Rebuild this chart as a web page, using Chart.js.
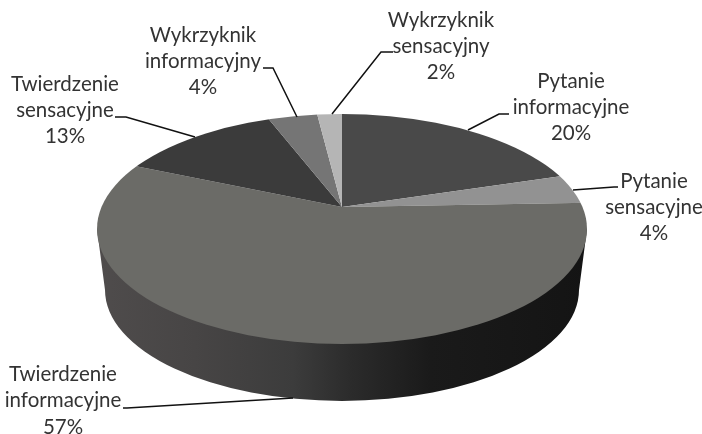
<!DOCTYPE html>
<html><head><meta charset="utf-8">
<style>html,body{margin:0;padding:0;background:#fff}canvas{display:block;filter:blur(.35px)}</style>
<script src="https://cdn.jsdelivr.net/npm/chart.js@4"></script>
</head><body><canvas id="c" width="702" height="434"></canvas>
<script>
const categories = ["Pytanie informacyjne","Pytanie sensacyjne","Twierdzenie informacyjne","Twierdzenie sensacyjne","Wykrzyknik informacyjny","Wykrzyknik sensacyjny"];
const values = [20,4,57,13,4,2];
const sliceColors = ["#494949","#929292","#6b6b67","#3b3b3b","#757575","#b5b5b5"];
const labelLines = [["Pytanie","informacyjne"],["Pytanie","sensacyjne"],["Twierdzenie","informacyjne"],["Twierdzenie","sensacyjne"],["Wykrzyknik","informacyjny"],["Wykrzyknik","sensacyjny"]];
const labelCenters = [[571,81],[654,181],[63,374],[65,84],[203,35],[441,20]];
const labelStep = [26,26,26.5,26,26,26];
const leaders = [
 [[509,114],[499,114],[468,130]],
 [[618,187],[614,187],[573,190]],
 [[123,408],[127,408],[293,398]],
 [[115,117],[126,117],[195,137]],
 [[263,68],[273,68],[297,117]],
 [[393,52],[381,52],[332,114]]
];
const topFace = {x:342,y:229,rx:245,ry:115};
const bottomFace = {x:342,y:290,rx:237,ry:111};
const apex = {x:342,y:207};
const tilt = {a:1.8,b:0.0216,d:0.846};

const pie3d = {
 id:'pie3d',
 beforeDatasetsDraw(chart){
  const ctx = chart.ctx, el = chart.getDatasetMeta(0).data[0];
  ctx.save();
  const g = ctx.createLinearGradient(bottomFace.x-bottomFace.rx-8,0,topFace.x+topFace.rx,0);
  g.addColorStop(0,'#4f4c4c');g.addColorStop(.2,'#474545');g.addColorStop(.4,'#3c3c3c');
  g.addColorStop(.52,'#2b2b2b');g.addColorStop(.68,'#1a1a1a');g.addColorStop(1,'#141414');
  ctx.fillStyle = g;
  ctx.beginPath();
  ctx.moveTo(topFace.x-topFace.rx,topFace.y);
  ctx.lineTo(bottomFace.x-bottomFace.rx,bottomFace.y);
  ctx.ellipse(bottomFace.x,bottomFace.y,bottomFace.rx,bottomFace.ry,0,Math.PI,0,true);
  ctx.lineTo(topFace.x+topFace.rx,topFace.y);
  ctx.closePath();ctx.fill();
  ctx.beginPath();
  ctx.ellipse(topFace.x,topFace.y,topFace.rx,topFace.ry,0,0,Math.PI*2);
  ctx.clip();
  ctx.translate(apex.x,apex.y);
  ctx.transform(tilt.a,tilt.b,0,tilt.d,0,0);
  ctx.translate(-el.x,-el.y);
 },
 afterDatasetsDraw(chart){ chart.ctx.restore(); },
 afterDraw(chart){
  const ctx = chart.ctx;
  ctx.save();
  ctx.strokeStyle='#111';ctx.lineWidth=1.5;
  leaders.forEach(p=>{ctx.beginPath();ctx.moveTo(p[0][0],p[0][1]);p.slice(1).forEach(q=>ctx.lineTo(q[0],q[1]));ctx.stroke();});
  ctx.fillStyle='#333';ctx.font='20.5px Lato';ctx.textAlign='center';ctx.textBaseline='middle';
  labelLines.forEach((lines,i)=>{
   const [x,y]=labelCenters[i];
   lines.forEach((t,j)=>ctx.fillText(t,x,y+j*labelStep[i]));
   ctx.fillText(values[i]+'%',x,y+lines.length*labelStep[i]);
  });
  ctx.restore();
 }
};
new Chart(document.getElementById('c'),{
 type:'pie',
 data:{labels:categories,datasets:[{data:values,backgroundColor:sliceColors,borderWidth:0,clip:false}]},
 options:{responsive:false,animation:false,rotation:0,layout:{padding:0},
  plugins:{legend:{display:false},tooltip:{enabled:false},title:{display:false}}},
 plugins:[pie3d]
});
</script></body></html>
